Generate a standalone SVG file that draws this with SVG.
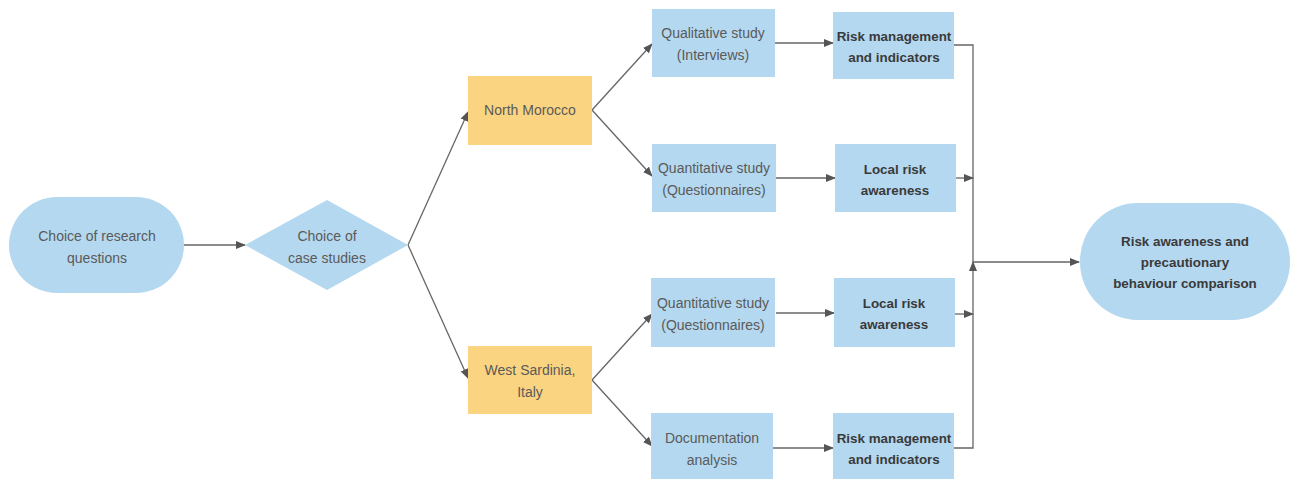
<svg xmlns="http://www.w3.org/2000/svg" width="1290" height="479" viewBox="0 0 1290 479">
<defs>
<marker id="ah" markerWidth="10" markerHeight="8" refX="9" refY="4" orient="auto" markerUnits="userSpaceOnUse">
<path d="M0,0 L10,4 L0,8 Z" fill="#555"/>
</marker>
<style>
.b{fill:#b4d8ef}
.o{fill:#fad480}
.t{font-family:"Liberation Sans",Arial,sans-serif;font-size:14px;fill:#5a5a5a;text-anchor:middle}
.tb{font-family:"Liberation Sans",Arial,sans-serif;font-size:13.4px;font-weight:bold;fill:#3a3a3a;text-anchor:middle}
.c{fill:none;stroke:#666;stroke-width:1.3}
</style>
</defs>
<rect width="1290" height="479" fill="#fff"/>
<g id="connectors">
<line class="c" x1="184" y1="245" x2="245" y2="245" marker-end="url(#ah)"/>
<line class="c" x1="408" y1="245" x2="468" y2="112" marker-end="url(#ah)"/>
<line class="c" x1="408" y1="245" x2="468" y2="378" marker-end="url(#ah)"/>
<line class="c" x1="592" y1="110" x2="652" y2="44" marker-end="url(#ah)"/>
<line class="c" x1="592" y1="110" x2="652" y2="176" marker-end="url(#ah)"/>
<line class="c" x1="592" y1="380" x2="652" y2="314" marker-end="url(#ah)"/>
<line class="c" x1="592" y1="380" x2="652" y2="446" marker-end="url(#ah)"/>
<line class="c" x1="775" y1="43" x2="833" y2="43" marker-end="url(#ah)"/>
<line class="c" x1="776" y1="178" x2="835" y2="178" marker-end="url(#ah)"/>
<line class="c" x1="776" y1="313" x2="834" y2="313" marker-end="url(#ah)"/>
<line class="c" x1="773" y1="448" x2="833" y2="448" marker-end="url(#ah)"/>
<polyline class="c" points="954,45 973,45 973,262"/>
<line class="c" x1="956" y1="178" x2="973" y2="178" marker-end="url(#ah)"/>
<line class="c" x1="955" y1="314" x2="973" y2="314" marker-end="url(#ah)"/>
<polyline class="c" points="954,448 973,448 973,262" marker-end="url(#ah)"/>
<line class="c" x1="973" y1="262" x2="1079" y2="262" marker-end="url(#ah)"/>
</g>
<g id="n1"><rect class="b" x="9" y="197" width="175" height="96" rx="48"/><text class="t" x="97" y="241">Choice of research</text><text class="t" x="97" y="263">questions</text></g>
<g id="n2"><polygon class="b" points="245,245 327,200 408,245 327,290"/><text class="t" x="327" y="241">Choice of</text><text class="t" x="327" y="263">case studies</text></g>
<g id="n3"><rect class="o" x="468" y="76" width="124" height="69"/><text class="t" x="530" y="115">North Morocco</text></g>
<g id="n4"><rect class="o" x="468" y="346" width="124" height="68"/><text class="t" x="530" y="375">West Sardinia,</text><text class="t" x="530" y="397">Italy</text></g>
<g id="n5"><rect class="b" x="652" y="9" width="123" height="68"/><text class="t" x="713" y="38">Qualitative study</text><text class="t" x="713" y="60">(Interviews)</text></g>
<g id="n6"><rect class="b" x="652" y="144" width="124" height="68"/><text class="t" x="714" y="173">Quantitative study</text><text class="t" x="714" y="195">(Questionnaires)</text></g>
<g id="n7"><rect class="b" x="651" y="278" width="124" height="69"/><text class="t" x="713" y="308">Quantitative study</text><text class="t" x="713" y="330">(Questionnaires)</text></g>
<g id="n8"><rect class="b" x="651" y="413" width="122" height="67"/><text class="t" x="712" y="443">Documentation</text><text class="t" x="712" y="465">analysis</text></g>
<g id="n9"><rect class="b" x="833" y="12" width="121" height="67"/><text class="tb" x="894" y="41">Risk management</text><text class="tb" x="894" y="62">and indicators</text></g>
<g id="n10"><rect class="b" x="835" y="144" width="121" height="68"/><text class="tb" x="895" y="174">Local risk</text><text class="tb" x="895" y="195">awareness</text></g>
<g id="n11"><rect class="b" x="834" y="278" width="121" height="69"/><text class="tb" x="894" y="308">Local risk</text><text class="tb" x="894" y="329">awareness</text></g>
<g id="n12"><rect class="b" x="833" y="413" width="121" height="67"/><text class="tb" x="894" y="443">Risk management</text><text class="tb" x="894" y="464">and indicators</text></g>
<g id="n13"><rect class="b" x="1080" y="203" width="210" height="117" rx="58"/><text class="tb" x="1185" y="246">Risk awareness and</text><text class="tb" x="1185" y="267">precautionary</text><text class="tb" x="1185" y="288">behaviour comparison</text></g>
</svg>
